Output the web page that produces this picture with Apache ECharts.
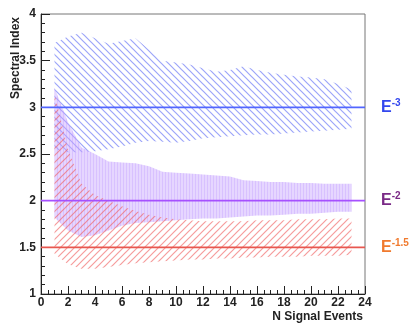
<!DOCTYPE html>
<html>
<head>
<meta charset="utf-8">
<script src="https://cdn.jsdelivr.net/npm/echarts@6/dist/echarts.min.js"></script>
<style>
  html, body { margin: 0; padding: 0; background: #fff; }
  #chart { width: 415px; height: 332px; }
</style>
</head>
<body>
<div id="chart"></div>
<script>
// number of signal events
const events = [1, 2, 3, 4, 5, 6, 7, 8, 9, 10, 11, 12, 13, 14, 15, 16, 17, 18, 19, 20, 21, 22, 23];

// E^-3 band
const blueUpper = [3.69, 3.76, 3.80, 3.74, 3.68, 3.71, 3.74, 3.62, 3.50, 3.48, 3.46, 3.42, 3.38, 3.40, 3.44, 3.40, 3.37, 3.35, 3.33, 3.32, 3.30, 3.25, 3.19];
const blueLower = [2.55, 2.52, 2.52, 2.53, 2.55, 2.58, 2.62, 2.64, 2.63, 2.62, 2.64, 2.67, 2.68, 2.69, 2.70, 2.71, 2.71, 2.72, 2.73, 2.74, 2.75, 2.76, 2.77];

// E^-2 band
const purpleUpper = [3.21, 2.84, 2.57, 2.50, 2.42, 2.41, 2.40, 2.37, 2.31, 2.30, 2.29, 2.28, 2.27, 2.26, 2.22, 2.21, 2.20, 2.20, 2.19, 2.19, 2.18, 2.18, 2.18];
const purpleLower = [1.82, 1.68, 1.61, 1.63, 1.68, 1.73, 1.76, 1.77, 1.78, 1.79, 1.80, 1.81, 1.81, 1.82, 1.83, 1.84, 1.84, 1.85, 1.86, 1.86, 1.87, 1.88, 1.88];

// E^-1.5 band
const redUpper = [3.15, 2.55, 2.18, 2.06, 2.00, 1.94, 1.89, 1.85, 1.82, 1.80, 1.79, 1.78, 1.78, 1.78, 1.78, 1.79, 1.79, 1.79, 1.80, 1.80, 1.80, 1.81, 1.81];
const redLower = [1.43, 1.32, 1.27, 1.27, 1.29, 1.31, 1.33, 1.34, 1.35, 1.36, 1.37, 1.37, 1.38, 1.38, 1.39, 1.39, 1.40, 1.40, 1.40, 1.41, 1.41, 1.41, 1.42];

// true spectral indices (horizontal reference lines)
const trueIndex = [3, 2, 1.5];
const trueLabels = ['-3', '-2', '-1.5'];
const xRange = [0, 24];

const FONT = 'Liberation Sans, Arial, sans-serif';

function hatch(dir, color) {
  const s = 7;
  const c = document.createElement('canvas');
  c.width = s; c.height = s;
  const ctx = c.getContext('2d');
  ctx.strokeStyle = color;
  ctx.lineWidth = 1.2;
  ctx.beginPath();
  if (dir === '\\') {
    ctx.moveTo(-1, -1); ctx.lineTo(s + 1, s + 1);
    ctx.moveTo(-1, s - 1); ctx.lineTo(1, s + 1);
    ctx.moveTo(s - 1, -1); ctx.lineTo(s + 1, 1);
  } else {
    ctx.moveTo(-1, s + 1); ctx.lineTo(s + 1, -1);
    ctx.moveTo(-1, 1); ctx.lineTo(1, -1);
    ctx.moveTo(s - 1, s + 1); ctx.lineTo(s + 1, s - 1);
  }
  ctx.stroke();
  return c;
}

function stripes() {
  const c = document.createElement('canvas');
  c.width = 3; c.height = 2;
  const ctx = c.getContext('2d');
  ctx.fillStyle = 'rgba(200,165,255,0.45)';
  ctx.fillRect(0, 0, 3, 2);
  ctx.fillStyle = 'rgba(185,145,255,0.3)';
  ctx.fillRect(0, 0, 1, 2);
  return c;
}

// one polygon per band, built from the lower edge out and the upper edge back
function band(name, lower, upper, fill, z) {
  return {
    name: name, type: 'custom', z: z, silent: true,
    encode: { x: 0, y: [1, 2] },
    data: events.map((x, i) => [x, lower[i], upper[i]]),
    renderItem: function (params, api) {
      if (params.dataIndex !== 0) return null;
      const pts = [];
      events.forEach((x, i) => pts.push(api.coord([x, lower[i]])));
      for (let i = events.length - 1; i >= 0; i--) pts.push(api.coord([events[i], upper[i]]));
      return {
        type: 'polygon',
        shape: { points: pts },
        style: { fill: fill, stroke: null }
      };
    }
  };
}

const lineColors = ['#5266ff', '#a650ff', '#e8574f'];
const labelColors = ['#3347ee', '#7a2a86', '#f07a2e'];

const refLines = trueIndex.map((v, i) => ({
  name: 'E' + trueLabels[i], type: 'line', symbol: 'none', z: 5,
  lineStyle: { color: lineColors[i], width: 1.6 },
  endLabel: {
    show: true, distance: 16,
    formatter: '{e|E}{s|' + trueLabels[i] + '}',
    rich: {
      e: { fontFamily: FONT, fontWeight: 'bold', fontSize: 16, color: labelColors[i] },
      s: { fontFamily: FONT, fontWeight: 'bold', fontSize: 10, color: labelColors[i], verticalAlign: 'top', padding: [0, 0, 9, 0] }
    }
  },
  data: xRange.map(x => [x, v])
}));

const chart = echarts.init(document.getElementById('chart'));
chart.setOption({
  animation: false,
  grid: { left: 41, right: 50, top: 14, bottom: 38, show: true, borderColor: '#777', borderWidth: 1 },
  xAxis: {
    type: 'value', min: 0, max: 24, interval: 2,
    axisLine: { lineStyle: { color: '#222', width: 1 } },
    axisTick: { inside: true, length: 8, lineStyle: { color: '#222' } },
    minorTick: { show: true, splitNumber: 4, length: 4, lineStyle: { color: '#222' } },
    splitLine: { show: false },
    axisLabel: { margin: 3, color: '#222', fontFamily: FONT, fontWeight: 'bold', fontSize: 12 }
  },
  yAxis: {
    type: 'value', min: 1, max: 4, interval: 0.5,
    axisLine: { show: true, lineStyle: { color: '#222', width: 1 } },
    axisTick: { show: true, inside: true, length: 9, lineStyle: { color: '#222' } },
    minorTick: { show: true, splitNumber: 5, length: 4, lineStyle: { color: '#222' } },
    splitLine: { show: false },
    axisLabel: { margin: 5, color: '#222', fontFamily: FONT, fontWeight: 'bold', fontSize: 12 }
  },
  graphic: [
    {
      type: 'text', x: 16, y: 58, rotation: Math.PI / 2,
      style: { text: 'Spectral Index', align: 'center', verticalAlign: 'middle', fill: '#222', font: 'bold 12px ' + FONT }
    },
    {
      type: 'text', x: 363, y: 317,
      style: { text: 'N Signal Events', align: 'right', verticalAlign: 'middle', fill: '#222', font: 'bold 12px ' + FONT }
    }
  ],
  series: [
    band('blue', blueLower, blueUpper, { image: hatch('\\', 'rgba(95,110,245,0.62)'), repeat: 'repeat' }, 1),
    band('purple', purpleLower, purpleUpper, { image: stripes(), repeat: 'repeat' }, 2),
    band('red', redLower, redUpper, { image: hatch('/', 'rgba(240,95,95,0.62)'), repeat: 'repeat' }, 3),
    ...refLines
  ]
});
</script>
</body>
</html>
